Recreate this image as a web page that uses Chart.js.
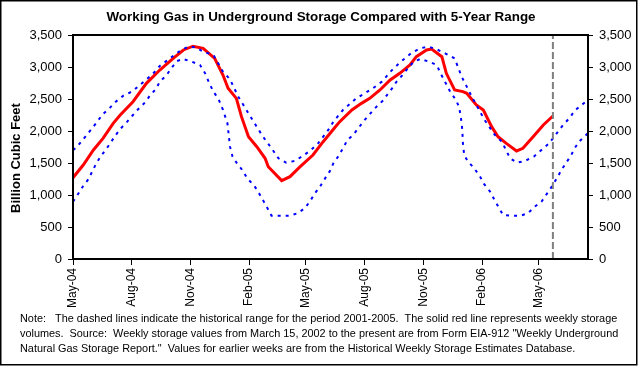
<!DOCTYPE html>
<html>
<head>
<meta charset="utf-8">
<script src="https://cdn.jsdelivr.net/npm/chart.js@4.4.1/dist/chart.umd.min.js"></script>
<style>
  html, body { margin: 0; padding: 0; background: #ffffff; }
  #wrap { width: 638px; height: 366px; position: relative; }
</style>
</head>
<body>
<div id="wrap"><canvas id="c" width="638" height="366"></canvas></div>
<script>
// x values are days since 2004-05-01
const startDate = '2004-05-01';
const xMaxDay = 807;
const tickDays = [0, 92, 184, 276, 365, 457, 549, 641, 730];
const tickLabels = ['May-04', 'Aug-04', 'Nov-04', 'Feb-05', 'May-05', 'Aug-05', 'Nov-05', 'Feb-06', 'May-06'];
const yTicks = [0, 500, 1000, 1500, 2000, 2500, 3000, 3500];
const markerDay = 752;

// Weekly working gas in storage (Bcf)
const storageDays = [0, 16, 32, 47, 63, 74, 94, 115, 136, 157, 173, 188, 204, 222, 235, 243, 256, 264, 275, 288, 301, 306, 327, 340, 356, 376, 392, 410, 418, 437, 452, 465, 481, 497, 512, 528, 538, 554, 562, 578, 585, 598, 611, 617, 632, 643, 656, 666, 679, 695, 705, 721, 737, 752];
const storageValues = [1270, 1469, 1703, 1885, 2120, 2250, 2458, 2745, 2953, 3135, 3266, 3325, 3292, 3135, 2875, 2667, 2510, 2224, 1911, 1755, 1573, 1442, 1224, 1286, 1442, 1625, 1833, 2050, 2146, 2328, 2432, 2510, 2641, 2797, 2901, 3031, 3161, 3266, 3281, 3161, 2901, 2641, 2615, 2589, 2406, 2328, 2068, 1911, 1807, 1688, 1729, 1911, 2094, 2234];

// 5-year maximum (2001-2005)
const maxDays = [0, 6, 16, 32, 47, 58, 67, 79, 93, 106, 125, 136, 147, 168, 181, 193, 204, 220, 235, 246, 259, 267, 282, 297, 313, 322, 334, 347, 360, 373, 384, 400, 408, 423, 444, 457, 470, 484, 499, 512, 531, 544, 557, 570, 583, 598, 609, 617, 625, 632, 645, 661, 672, 685, 696, 708, 722, 734, 745, 752, 760, 768, 779, 786, 797, 807];
const maxValues = [1700, 1750, 1870, 2068, 2266, 2365, 2458, 2552, 2620, 2729, 2891, 3016, 3099, 3255, 3318, 3305, 3240, 3188, 2927, 2807, 2536, 2406, 2161, 1922, 1703, 1573, 1505, 1531, 1609, 1703, 1807, 2016, 2146, 2328, 2510, 2589, 2667, 2771, 2943, 3068, 3224, 3292, 3318, 3276, 3214, 3135, 2849, 2693, 2536, 2406, 2172, 1938, 1833, 1573, 1505, 1531, 1599, 1703, 1797, 1885, 1990, 2094, 2214, 2318, 2406, 2484];

// 5-year minimum (2001-2005)
const minDays = [0, 8, 16, 24, 37, 45, 53, 67, 75, 85, 94, 102, 114, 121, 130, 136, 146, 154, 163, 173, 186, 199, 207, 213, 220, 228, 235, 242, 244, 246, 250, 257, 266, 273, 284, 290, 297, 304, 311, 325, 339, 352, 363, 371, 379, 387, 395, 402, 408, 416, 423, 430, 439, 447, 456, 464, 472, 485, 492, 500, 507, 515, 524, 534, 544, 558, 570, 576, 591, 599, 605, 608, 610, 611, 613, 619, 628, 638, 644, 653, 660, 667, 674, 688, 701, 713, 722, 734, 743, 751, 758, 764, 772, 780, 786, 793, 804, 807];
const minValues = [895, 1016, 1141, 1245, 1505, 1625, 1729, 1938, 2042, 2146, 2250, 2339, 2458, 2562, 2656, 2771, 2865, 2979, 3094, 3125, 3083, 3031, 2901, 2760, 2615, 2500, 2330, 2120, 1938, 1755, 1599, 1495, 1380, 1260, 1146, 1052, 932, 807, 677, 677, 677, 714, 792, 895, 1026, 1130, 1260, 1365, 1495, 1609, 1729, 1859, 1938, 2042, 2161, 2250, 2344, 2469, 2562, 2667, 2771, 2859, 2969, 3083, 3125, 3083, 3031, 2901, 2615, 2500, 2380, 2198, 2016, 1807, 1625, 1521, 1427, 1286, 1172, 1062, 932, 807, 687, 677, 677, 714, 807, 895, 1026, 1141, 1260, 1365, 1495, 1609, 1729, 1833, 1938, 1970];

const titleText = 'Working Gas in Underground Storage Compared with 5-Year Range';
const yTitleText = 'Billion Cubic Feet';
const noteLines = [
  'Note:   The dashed lines indicate the historical range for the period 2001-2005.  The solid red line represents weekly storage',
  'volumes.  Source:  Weekly storage values from March 15, 2002 to the present are from Form EIA-912 "Weekly Underground',
  'Natural Gas Storage Report."  Values for earlier weeks are from the Historical Weekly Storage Estimates Database.'
];

const FONT = '"Liberation Sans", Arial, Helvetica, sans-serif';
const zip = (xs, ys) => xs.map((x, i) => ({ x: x, y: ys[i] }));

const decorPlugin = {
  id: 'decor',
  afterDraw(chart) {
    const ctx = chart.ctx;
    const a = chart.chartArea;
    ctx.save();
    // plot frame
    ctx.strokeStyle = '#000';
    ctx.lineWidth = 2;
    ctx.strokeRect(a.left, a.top, a.right - a.left, a.bottom - a.top);
    // outer border
    ctx.lineWidth = 1.5;
    ctx.strokeRect(0.75, 0.75, 636, 364);
    // title
    ctx.fillStyle = '#000';
    ctx.font = 'bold 13.4px ' + FONT;
    ctx.textAlign = 'center';
    ctx.textBaseline = 'alphabetic';
    ctx.fillText(titleText, 321, 21);
    // y axis title
    ctx.save();
    ctx.font = 'bold 13px ' + FONT;
    ctx.translate(20, 158);
    ctx.rotate(-Math.PI / 2);
    ctx.textAlign = 'center';
    ctx.fillText(yTitleText, 0, 0);
    ctx.restore();
    // note
    ctx.font = '10.88px ' + FONT;
    ctx.textAlign = 'left';
    ctx.textBaseline = 'middle';
    noteLines.forEach((t, i) => ctx.fillText(t, 20, 319 + i * 15));
    ctx.restore();
  }
};

const yTickOpts = {
  color: '#000',
  font: { family: FONT, size: 13 },
  padding: 6,
  callback: v => v.toLocaleString('en-US')
};

new Chart(document.getElementById('c'), {
  type: 'line',
  data: {
    datasets: [
      { label: 'Marker', data: [{ x: markerDay, y: 0 }, { x: markerDay, y: 3500 }], borderColor: '#808080', borderWidth: 2, borderDash: [7, 3], pointRadius: 0, fill: false },
      { label: '5-Year Max', data: zip(maxDays, maxValues), borderColor: '#0000ff', borderWidth: 2, borderDash: [3, 5], pointRadius: 0, fill: false, tension: 0 },
      { label: '5-Year Min', data: zip(minDays, minValues), borderColor: '#0000ff', borderWidth: 2, borderDash: [3, 5], pointRadius: 0, fill: false, tension: 0 },
      { label: 'Working Gas', data: zip(storageDays, storageValues), borderColor: '#ff0000', borderWidth: 3, pointRadius: 0, fill: false, tension: 0 }
    ]
  },
  options: {
    responsive: false,
    animation: false,
    devicePixelRatio: 1,
    layout: { padding: { top: 35, left: 0, right: 0, bottom: 0 } },
    plugins: { legend: { display: false }, title: { display: false }, tooltip: { enabled: false } },
    scales: {
      x: {
        type: 'linear', position: 'bottom', min: 0, max: xMaxDay,
        afterBuildTicks: s => { s.ticks = tickDays.map(v => ({ value: v })); },
        afterFit: s => { s.height = 107; },
        ticks: {
          autoSkip: false, minRotation: 90, maxRotation: 90, padding: 3,
          color: '#000', font: { family: FONT, size: 12 },
          callback: v => { const i = tickDays.indexOf(v); return i >= 0 ? tickLabels[i] : ''; }
        },
        grid: { drawOnChartArea: false, drawTicks: true, tickLength: 6, color: '#000', tickColor: '#000', lineWidth: 1 },
        border: { display: true, color: '#000', width: 2 }
      },
      y: {
        type: 'linear', position: 'left', min: 0, max: 3500,
        afterBuildTicks: s => { s.ticks = yTicks.map(v => ({ value: v })); },
        afterFit: s => { s.width = 73; },
        ticks: yTickOpts,
        grid: { drawOnChartArea: false, drawTicks: true, tickLength: 5, color: '#000', tickColor: '#000', lineWidth: 1 },
        border: { display: true, color: '#000', width: 2 }
      },
      y2: {
        type: 'linear', position: 'right', min: 0, max: 3500, display: true,
        afterBuildTicks: s => { s.ticks = yTicks.map(v => ({ value: v })); },
        afterFit: s => { s.width = 50; },
        ticks: yTickOpts,
        grid: { drawOnChartArea: false, drawTicks: true, tickLength: 5, color: '#000', tickColor: '#000', lineWidth: 1 },
        border: { display: true, color: '#000', width: 2 }
      }
    }
  },
  plugins: [decorPlugin]
});
</script>
</body>
</html>
